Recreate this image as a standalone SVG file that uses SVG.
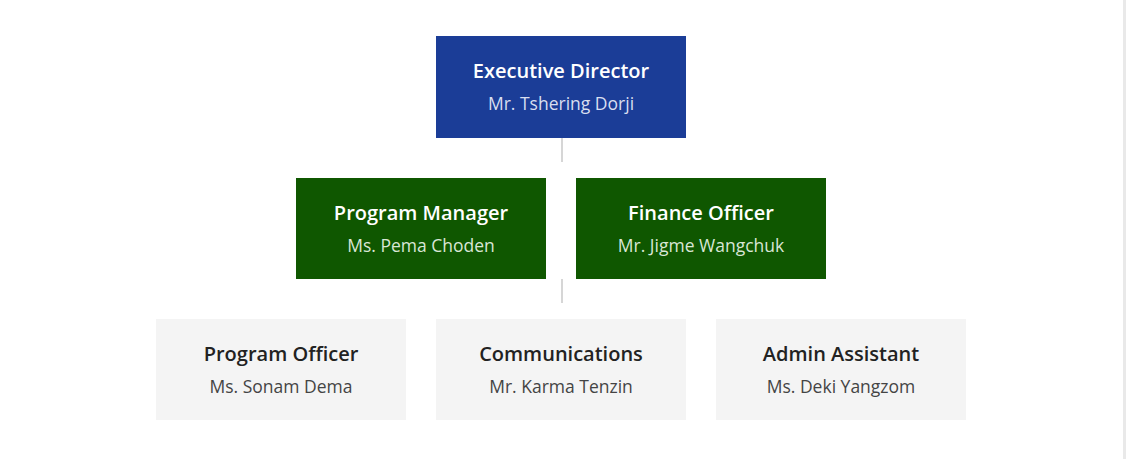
<svg xmlns="http://www.w3.org/2000/svg" width="1126" height="459" viewBox="0 0 1126 459">
<style>
.t{font-family:"Open Sans","Noto Sans",sans-serif;font-size:20px;font-weight:600;text-anchor:middle}
.n{font-family:"Open Sans","Noto Sans",sans-serif;font-size:17.5px;font-weight:400;text-anchor:middle}
.blue rect{fill:#1b3d97}
.green rect{fill:#0f5700}
.grey rect{fill:#f4f4f4}
.blue .t,.green .t{fill:#ffffff}
.blue .n{fill:#d9dff0}
.green .n{fill:#d9e6d6}
.grey .t{fill:#222222}
.grey .n{fill:#444444}
.c line{stroke:#d6d6d6;stroke-width:2}
</style>
<rect width="1126" height="459" fill="#ffffff"/>
<rect x="1123" y="0" width="3" height="459" fill="#e9e9e9"/>
<g class="c" id="connectors">
<line x1="562" y1="138" x2="562" y2="162"/>
<line x1="562" y1="279" x2="562" y2="303"/>
</g>
<g id="executive-director" class="blue">
<rect x="436" y="36" width="250" height="102"/>
<text class="t" x="561" y="78">Executive Director</text>
<text class="n" x="561" y="110">Mr. Tshering Dorji</text>
</g>
<g id="program-manager" class="green">
<rect x="296" y="178" width="250" height="101"/>
<text class="t" x="421" y="220">Program Manager</text>
<text class="n" x="421" y="252">Ms. Pema Choden</text>
</g>
<g id="finance-officer" class="green">
<rect x="576" y="178" width="250" height="101"/>
<text class="t" x="701" y="220">Finance Officer</text>
<text class="n" x="701" y="252">Mr. Jigme Wangchuk</text>
</g>
<g id="program-officer" class="grey">
<rect x="156" y="319" width="250" height="101"/>
<text class="t" x="281" y="361">Program Officer</text>
<text class="n" x="281" y="393">Ms. Sonam Dema</text>
</g>
<g id="communications" class="grey">
<rect x="436" y="319" width="250" height="101"/>
<text class="t" x="561" y="361">Communications</text>
<text class="n" x="561" y="393">Mr. Karma Tenzin</text>
</g>
<g id="admin-assistant" class="grey">
<rect x="716" y="319" width="250" height="101"/>
<text class="t" x="841" y="361">Admin Assistant</text>
<text class="n" x="841" y="393">Ms. Deki Yangzom</text>
</g>
</svg>
